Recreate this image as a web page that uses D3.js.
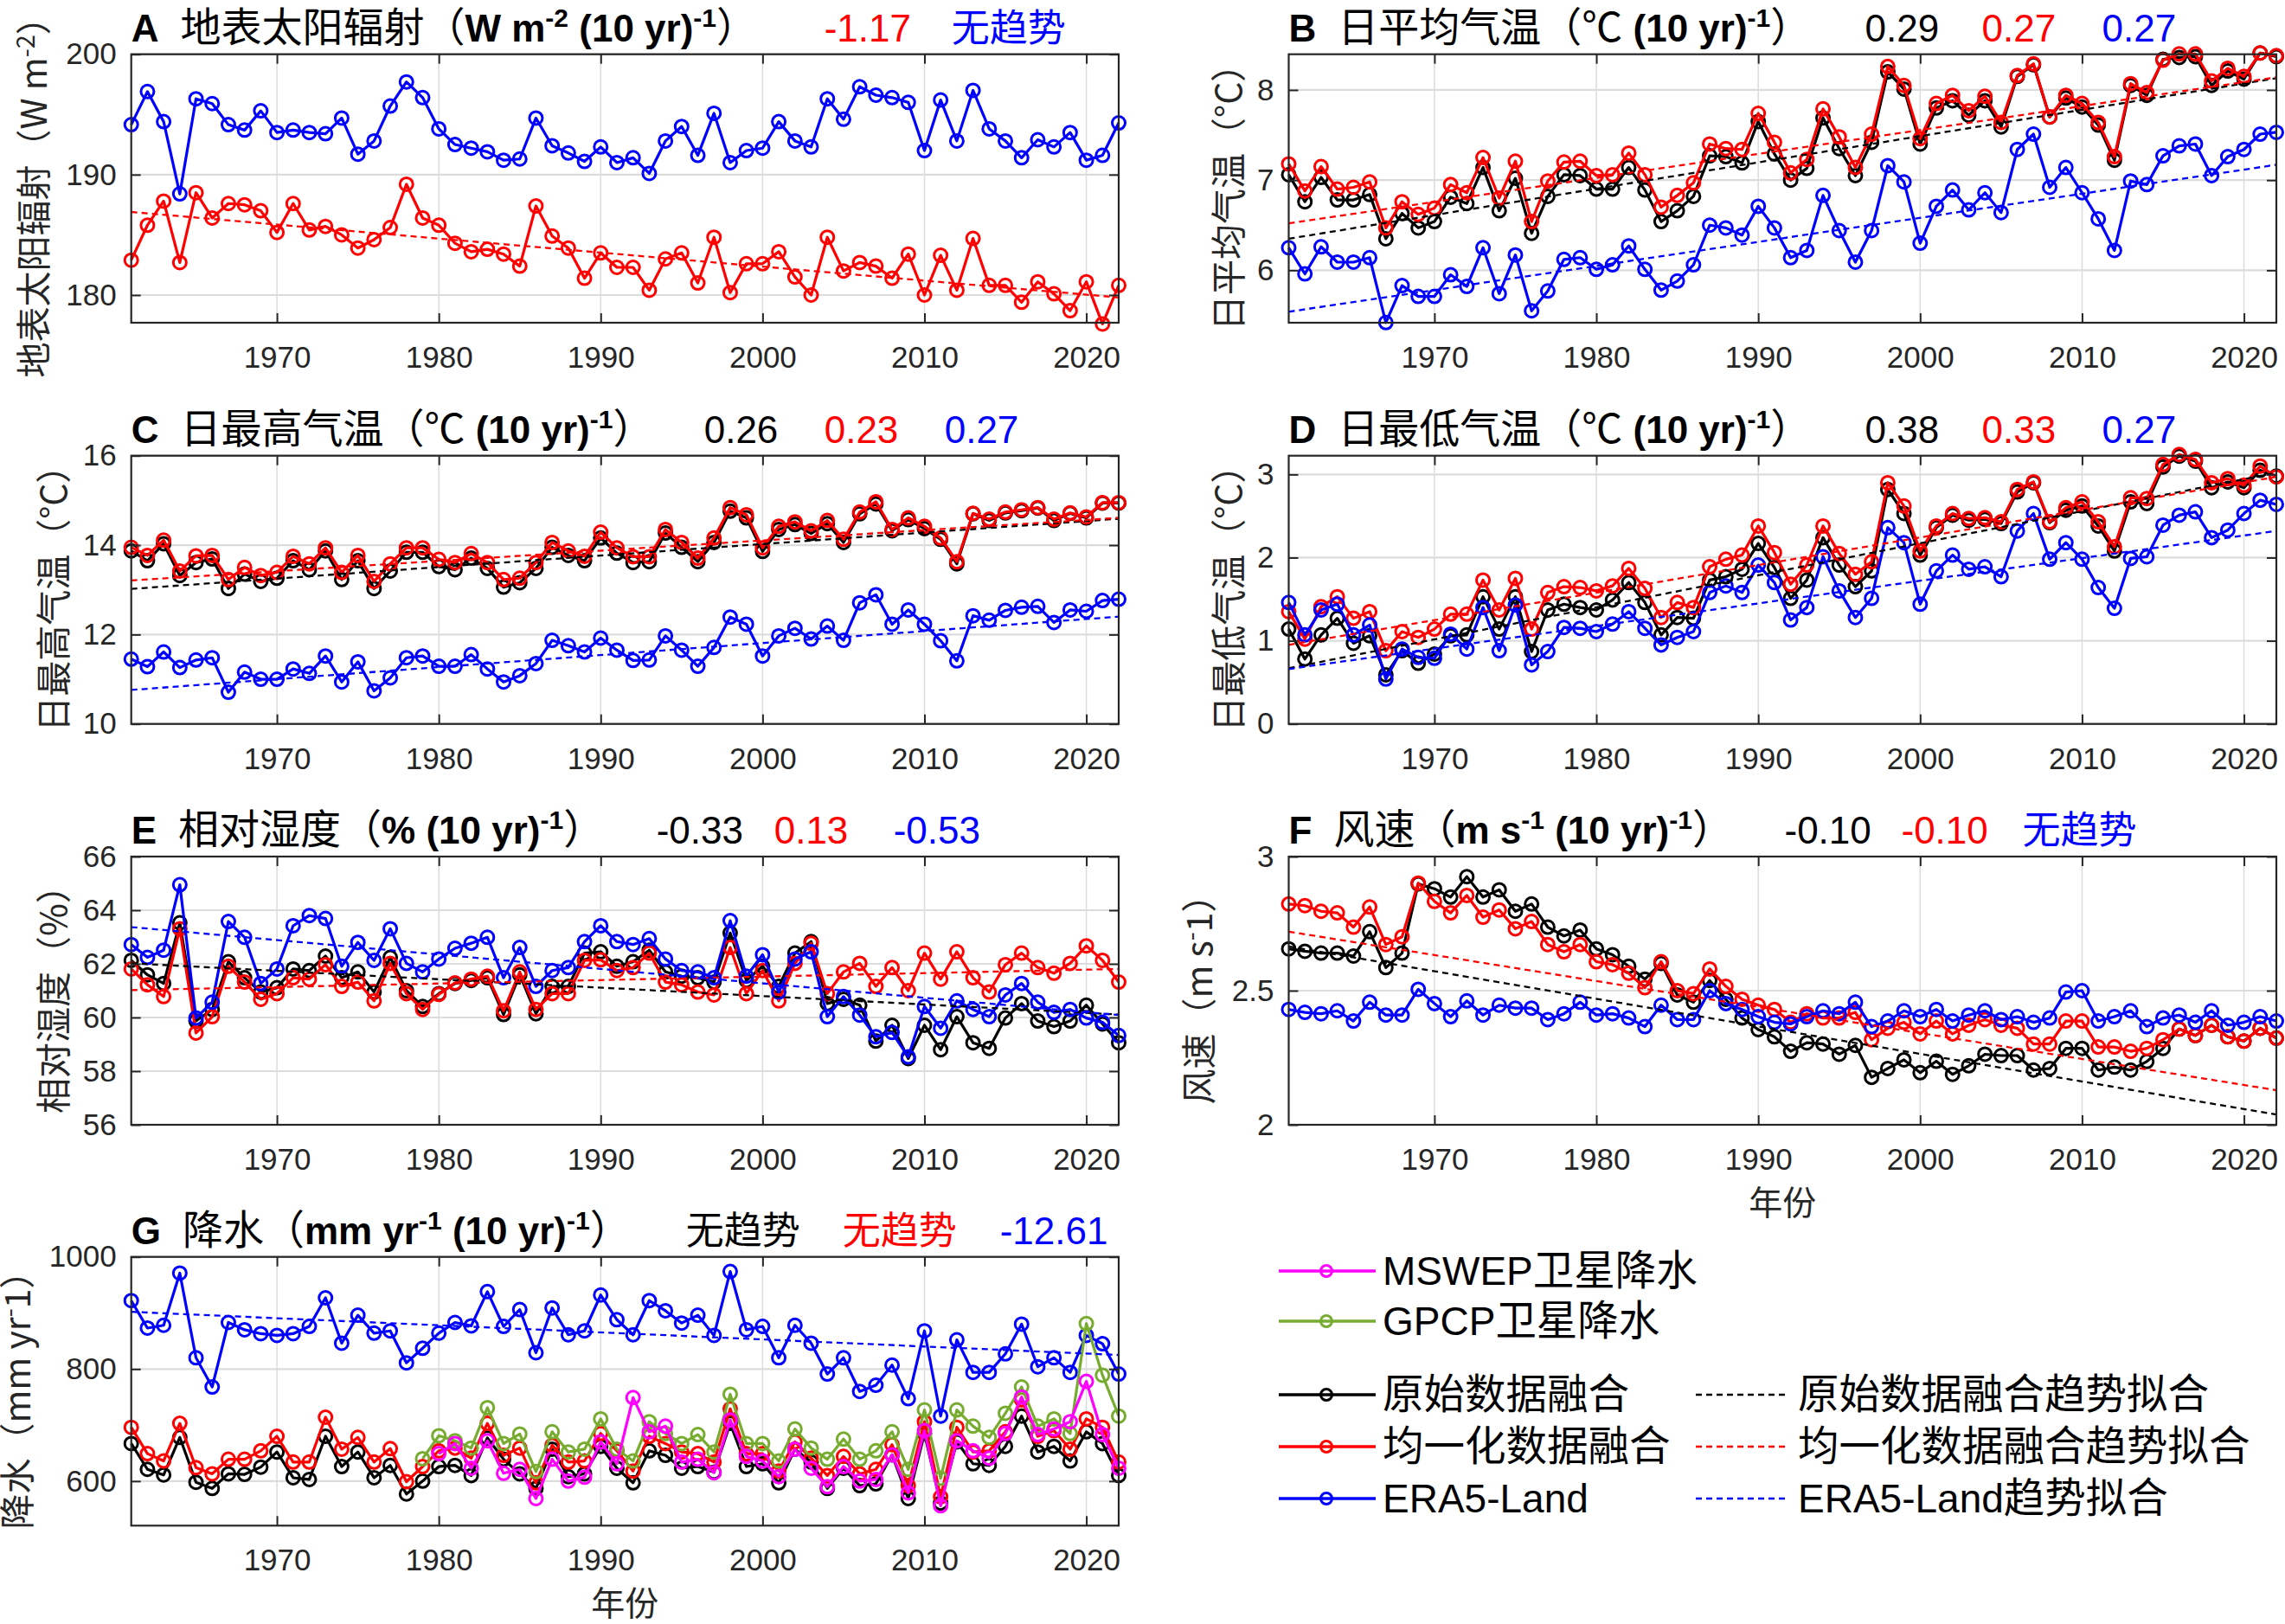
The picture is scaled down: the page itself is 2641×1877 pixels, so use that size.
<!DOCTYPE html>
<html>
<head>
<meta charset="utf-8">
<script src="https://cdn.jsdelivr.net/npm/d3@7"></script>
<style>
  body { margin: 0; background: #fff; }
  text { font-family: "Liberation Sans", Arial, "Noto Sans CJK SC", sans-serif; }
  .cjk { font-family: "Noto Sans CJK SC", "Liberation Sans", sans-serif; }
</style>
</head>
<body>
<svg id="chart" width="2641" height="1877"></svg>
<script>
// ---- data ----
const years = d3.range(1961, 2023);
const mswepYears = d3.range(1980, 2023);
const gpcpYears = d3.range(1979, 2023);
const xTicks = [1970, 1980, 1990, 2000, 2010, 2020];
const trendYears = [1961, 2022];

// A: surface solar radiation
const radHom = [182.9, 185.8, 187.8, 182.7, 188.5, 186.4, 187.6, 187.5, 187.0, 185.2,
  187.6, 185.4, 185.7, 185.0, 183.9, 184.6, 185.6, 189.2, 186.4, 185.8,
  184.3, 183.6, 183.8, 183.4, 182.4, 187.4, 184.9, 183.9, 181.4, 183.5,
  182.3, 182.3, 180.4, 183.0, 183.5, 181.0, 184.8, 180.2, 182.6, 182.6,
  183.6, 181.5, 180.0, 184.8, 182.0, 182.7, 182.4, 181.4, 183.4, 180.0,
  183.3, 180.4, 184.7, 180.8, 180.8, 179.4, 181.1, 180.1, 178.7, 181.1,
  177.6, 180.8];
const radEra = [194.15, 196.9, 194.4, 188.4, 196.3, 195.9, 194.15, 193.7, 195.3, 193.5,
  193.7, 193.5, 193.4, 194.7, 191.7, 192.8, 195.7, 197.7, 196.4, 193.8,
  192.5, 192.2, 191.9, 191.2, 191.3, 194.7, 192.4, 191.8, 191.1, 192.3,
  191.0, 191.4, 190.1, 192.8, 194.0, 191.6, 195.1, 191.0, 192.0, 192.2,
  194.4, 192.8, 192.3, 196.3, 194.6, 197.3, 196.6, 196.4, 196.0, 192.0,
  196.2, 192.8, 197.0, 193.8, 192.8, 191.4, 192.9, 192.3, 193.5, 191.2,
  191.6, 194.3];
const radHomTrend = [186.9, 179.8];

// B: daily mean temperature
const tavgRaw = [7.06, 6.76, 7.03, 6.78, 6.78, 6.84, 6.35, 6.63, 6.47, 6.54,
  6.81, 6.74, 7.14, 6.66, 7.02, 6.41, 6.82, 7.06, 7.05, 6.90,
  6.90, 7.14, 6.89, 6.54, 6.66, 6.82, 7.27, 7.26, 7.19, 7.65,
  7.29, 7.00, 7.13, 7.69, 7.35, 7.05, 7.42, 8.20, 8.01, 7.40,
  7.80, 7.88, 7.72, 7.88, 7.59, 8.15, 8.28, 7.70, 7.91, 7.81,
  7.61, 7.22, 8.05, 7.94, 8.34, 8.36, 8.37, 8.05, 8.21, 8.12,
  8.41, 8.37];
const tavgHom = [7.18, 6.88, 7.15, 6.90, 6.92, 6.98, 6.47, 6.76, 6.62, 6.69,
  6.95, 6.86, 7.25, 6.80, 7.21, 6.54, 6.99, 7.20, 7.21, 7.05,
  7.06, 7.30, 7.06, 6.70, 6.83, 6.97, 7.40, 7.35, 7.34, 7.74,
  7.42, 7.08, 7.23, 7.79, 7.48, 7.14, 7.51, 8.26, 8.05, 7.46,
  7.85, 7.94, 7.77, 7.93, 7.64, 8.16, 8.29, 7.70, 7.94, 7.85,
  7.64, 7.26, 8.07, 7.97, 8.33, 8.40, 8.40, 8.10, 8.24, 8.15,
  8.41, 8.38];
const tavgEra = [6.25, 5.96, 6.26, 6.09, 6.09, 6.14, 5.42, 5.83, 5.71, 5.71,
  5.95, 5.82, 6.25, 5.74, 6.17, 5.55, 5.77, 6.12, 6.14, 6.01,
  6.06, 6.27, 6.01, 5.78, 5.88, 6.06, 6.50, 6.47, 6.39, 6.71,
  6.47, 6.14, 6.22, 6.83, 6.44, 6.09, 6.44, 7.16, 6.98, 6.30,
  6.71, 6.89, 6.67, 6.86, 6.64, 7.34, 7.51, 6.92, 7.14, 6.86,
  6.57, 6.22, 6.99, 6.95, 7.27, 7.38, 7.40, 7.05, 7.26, 7.34,
  7.51, 7.53];
const tavgTrends = { raw: [6.35, 8.13], hom: [6.52, 8.14], era: [5.54, 7.17] };

// C: daily maximum temperature
const tmaxRaw = [13.87, 13.65, 14.03, 13.32, 13.61, 13.69, 13.03, 13.35, 13.19, 13.26,
  13.65, 13.45, 13.87, 13.23, 13.65, 13.03, 13.42, 13.84, 13.84, 13.52,
  13.45, 13.71, 13.48, 13.06, 13.16, 13.48, 13.95, 13.77, 13.65, 14.16,
  13.82, 13.61, 13.63, 14.27, 13.95, 13.63, 14.06, 14.76, 14.61, 13.86,
  14.35, 14.46, 14.26, 14.48, 14.06, 14.70, 14.92, 14.32, 14.57, 14.37,
  14.13, 13.58, 14.70, 14.55, 14.72, 14.77, 14.83, 14.55, 14.71, 14.61,
  14.94, 14.94];
const tmaxHom = [13.95, 13.77, 14.11, 13.42, 13.76, 13.77, 13.23, 13.50, 13.32, 13.39,
  13.75, 13.58, 13.94, 13.39, 13.77, 13.19, 13.58, 13.94, 13.94, 13.68,
  13.61, 13.81, 13.61, 13.23, 13.26, 13.61, 14.06, 13.87, 13.75, 14.29,
  13.94, 13.74, 13.74, 14.35, 14.06, 13.71, 14.16, 14.84, 14.68, 13.94,
  14.42, 14.52, 14.32, 14.55, 14.13, 14.74, 14.97, 14.35, 14.61, 14.42,
  14.16, 13.63, 14.71, 14.58, 14.74, 14.79, 14.84, 14.58, 14.72, 14.63,
  14.95, 14.95];
const tmaxEra = [11.45, 11.28, 11.61, 11.26, 11.43, 11.48, 10.71, 11.16, 11.00, 11.00,
  11.23, 11.13, 11.52, 10.94, 11.39, 10.74, 11.03, 11.48, 11.52, 11.29,
  11.29, 11.55, 11.23, 10.94, 11.08, 11.35, 11.87, 11.75, 11.61, 11.92,
  11.65, 11.42, 11.43, 11.97, 11.65, 11.29, 11.71, 12.39, 12.23, 11.52,
  11.97, 12.14, 11.90, 12.19, 11.87, 12.71, 12.89, 12.23, 12.55, 12.23,
  11.86, 11.41, 12.42, 12.32, 12.54, 12.61, 12.63, 12.27, 12.55, 12.52,
  12.76, 12.79];
const tmaxTrends = { raw: [13.02, 14.59], hom: [13.21, 14.61], era: [10.76, 12.40] };

// D: daily minimum temperature
const tminRaw = [1.14, 0.78, 1.07, 1.27, 0.97, 1.06, 0.59, 0.88, 0.73, 0.84,
  1.06, 1.07, 1.53, 1.14, 1.53, 0.87, 1.37, 1.44, 1.40, 1.37,
  1.49, 1.70, 1.46, 1.07, 1.28, 1.27, 1.73, 1.77, 1.86, 2.17,
  1.88, 1.51, 1.73, 2.24, 1.91, 1.65, 1.84, 2.82, 2.53, 2.03,
  2.36, 2.51, 2.45, 2.46, 2.41, 2.79, 2.90, 2.42, 2.57, 2.62,
  2.38, 2.08, 2.67, 2.65, 3.09, 3.22, 3.16, 2.84, 2.91, 2.84,
  3.05, 2.98];
const tminHom = [1.35, 1.02, 1.41, 1.53, 1.27, 1.35, 0.88, 1.11, 1.04, 1.14,
  1.32, 1.32, 1.73, 1.37, 1.75, 1.14, 1.58, 1.65, 1.64, 1.60,
  1.66, 1.87, 1.63, 1.28, 1.46, 1.40, 1.89, 1.98, 2.03, 2.38,
  2.06, 1.68, 1.91, 2.38, 2.05, 1.80, 1.95, 2.90, 2.62, 2.08,
  2.38, 2.53, 2.47, 2.48, 2.43, 2.82, 2.91, 2.43, 2.60, 2.67,
  2.43, 2.13, 2.72, 2.71, 3.12, 3.24, 3.18, 2.90, 2.95, 2.87,
  3.10, 2.97];
const tminEra = [1.46, 1.07, 1.37, 1.44, 1.07, 1.19, 0.54, 0.90, 0.80, 0.79,
  1.08, 0.90, 1.40, 0.88, 1.43, 0.71, 0.87, 1.16, 1.15, 1.11,
  1.20, 1.35, 1.15, 0.95, 1.04, 1.11, 1.58, 1.66, 1.58, 1.91,
  1.70, 1.25, 1.40, 2.01, 1.60, 1.28, 1.51, 2.36, 2.18, 1.44,
  1.84, 2.03, 1.86, 1.89, 1.77, 2.32, 2.53, 1.98, 2.18, 1.98,
  1.64, 1.39, 1.99, 2.01, 2.39, 2.51, 2.55, 2.24, 2.33, 2.53,
  2.69, 2.64];
const tminTrends = { raw: [0.67, 3.02], hom: [0.95, 2.97], era: [0.66, 2.32] };

// E: relative humidity
const rhRaw = [62.13, 61.59, 61.27, 63.53, 59.87, 60.30, 62.08, 61.48, 60.95, 61.11,
  61.81, 61.75, 62.29, 61.48, 61.70, 60.95, 62.24, 61.00, 60.41, 60.89,
  61.27, 61.38, 61.48, 60.11, 61.59, 60.14, 61.16, 61.16, 62.40, 62.45,
  61.91, 62.08, 62.51, 61.70, 61.54, 61.48, 61.32, 63.15, 61.38, 61.91,
  61.16, 62.40, 62.83, 60.52, 60.68, 60.46, 59.12, 59.71, 58.47, 59.71,
  58.80, 60.03, 59.06, 58.85, 59.98, 60.52, 59.87, 59.66, 59.87, 60.46,
  59.76, 59.06];
const rhHom = [61.81, 61.22, 60.78, 63.31, 59.42, 60.03, 61.91, 61.32, 60.68, 60.89,
  61.48, 61.43, 61.97, 61.16, 61.32, 60.62, 62.02, 60.89, 60.30, 60.86,
  61.29, 61.43, 61.54, 60.25, 61.70, 60.30, 60.89, 60.89, 62.13, 62.15,
  61.75, 61.86, 62.40, 61.32, 61.22, 60.95, 60.84, 62.61, 60.89, 61.75,
  60.62, 62.02, 62.77, 60.89, 61.70, 62.02, 61.16, 61.86, 61.00, 62.40,
  61.43, 62.45, 61.48, 60.95, 61.97, 62.40, 61.86, 61.65, 62.02, 62.67,
  62.13, 61.32];
const rhEra = [62.72, 62.24, 62.51, 64.95, 59.98, 60.57, 63.58, 62.99, 61.27, 61.81,
  63.42, 63.80, 63.69, 61.91, 62.80, 62.13, 63.31, 62.02, 61.70, 62.18,
  62.58, 62.77, 62.99, 61.48, 62.61, 61.16, 61.75, 61.86, 62.83, 63.42,
  62.83, 62.72, 62.94, 62.18, 61.75, 61.70, 61.48, 63.61, 61.54, 62.34,
  60.95, 62.18, 62.45, 60.03, 60.78, 60.09, 59.28, 59.44, 58.53, 60.41,
  59.60, 60.62, 60.30, 60.03, 60.84, 61.27, 60.57, 60.19, 60.30, 59.98,
  59.82, 59.33];
const rhTrends = { raw: [62.02, 60.11], hom: [61.02, 61.81], era: [63.37, 60.09] };

// F: wind speed
const windRaw = [2.656, 2.647, 2.640, 2.640, 2.629, 2.720, 2.586, 2.640, 2.898, 2.880,
  2.849, 2.925, 2.849, 2.876, 2.796, 2.823, 2.737, 2.704, 2.726, 2.656,
  2.634, 2.591, 2.543, 2.602, 2.484, 2.457, 2.538, 2.468, 2.398, 2.355,
  2.328, 2.274, 2.306, 2.301, 2.263, 2.296, 2.177, 2.210, 2.242, 2.194,
  2.237, 2.188, 2.220, 2.263, 2.258, 2.258, 2.204, 2.210, 2.285, 2.285,
  2.204, 2.215, 2.204, 2.236, 2.285, 2.357, 2.333, 2.371, 2.328, 2.312,
  2.360, 2.323];
const windHom = [2.823, 2.817, 2.796, 2.790, 2.737, 2.812, 2.672, 2.701, 2.901, 2.833,
  2.790, 2.855, 2.774, 2.801, 2.731, 2.758, 2.672, 2.645, 2.672, 2.608,
  2.597, 2.565, 2.511, 2.608, 2.500, 2.489, 2.581, 2.516, 2.468, 2.446,
  2.430, 2.382, 2.414, 2.398, 2.398, 2.419, 2.317, 2.360, 2.382, 2.339,
  2.387, 2.339, 2.371, 2.392, 2.371, 2.360, 2.301, 2.301, 2.387, 2.387,
  2.290, 2.290, 2.274, 2.285, 2.317, 2.357, 2.333, 2.371, 2.328, 2.312,
  2.360, 2.323];
const windEra = [2.430, 2.419, 2.414, 2.425, 2.387, 2.457, 2.409, 2.409, 2.505, 2.452,
  2.403, 2.462, 2.409, 2.446, 2.435, 2.435, 2.392, 2.414, 2.457, 2.409,
  2.414, 2.398, 2.366, 2.446, 2.392, 2.392, 2.500, 2.452, 2.430, 2.403,
  2.382, 2.376, 2.403, 2.425, 2.414, 2.457, 2.366, 2.387, 2.425, 2.403,
  2.430, 2.387, 2.409, 2.425, 2.392, 2.403, 2.382, 2.398, 2.495, 2.500,
  2.387, 2.403, 2.425, 2.366, 2.398, 2.409, 2.382, 2.425, 2.371, 2.382,
  2.403, 2.387];
const windTrends = { raw: [2.665, 2.038], hom: [2.720, 2.129] };

// G: precipitation
const precRaw = [667, 621, 611, 678, 598, 587, 613, 612, 625, 652,
  606, 603, 680, 626, 652, 606, 628, 577, 600, 626,
  628, 610, 677, 639, 613, 587, 657, 608, 613, 662,
  623, 597, 654, 646, 623, 626, 616, 703, 626, 631,
  597, 657, 634, 587, 623, 592, 595, 647, 569, 685,
  561, 670, 631, 628, 662, 716, 652, 662, 636, 688,
  667, 610];
const precHom = [696, 649, 636, 703, 624, 613, 639, 639, 654, 680,
  634, 634, 714, 657, 678, 634, 658, 599, 626, 654,
  659, 641, 703, 646, 659, 597, 664, 634, 636, 685,
  654, 618, 680, 667, 652, 649, 634, 729, 649, 649,
  618, 670, 641, 610, 644, 613, 621, 665, 592, 706,
  572, 696, 652, 654, 688, 745, 680, 690, 657, 711,
  696, 634];
const precEra = [922, 873, 878, 971, 820, 768, 883, 870, 863, 860,
  863, 876, 927, 846, 896, 864, 868, 811, 837, 864,
  883, 877, 938, 876, 906, 829, 909, 861, 868, 932,
  888, 861, 922, 904, 882, 896, 860, 974, 870, 876,
  820, 878, 846, 791, 820, 760, 771, 807, 747, 868,
  716, 852, 794, 794, 827, 880, 804, 820, 794, 860,
  845, 791];
const precMswep = [649, 667, 623, 672, 614, 621, 569, 639, 600, 607,
  670, 631, 749, 688, 698, 634, 639, 615, 709, 644,
  636, 608, 657, 623, 590, 626, 600, 603, 647, 579,
  690, 556, 672, 654, 641, 685, 750, 683, 693, 706,
  778, 683, 623];
const precGpcp = [640, 681, 672, 659, 731, 667, 684, 617, 688, 652, 657,
  711, 657, 636, 706, 685, 667, 683, 652, 755, 667,
  667, 636, 693, 659, 639, 675, 639, 654, 688, 621,
  727, 605, 727, 698, 678, 721, 768, 698, 711, 685,
  881, 789, 716];
const precTrends = { era: [902, 825] };

// trend rates printed in the titles
const ratesA = ['-1.17', '无趋势'];
const ratesB = ['0.29', '0.27', '0.27'];
const ratesC = ['0.26', '0.23', '0.27'];
const ratesD = ['0.38', '0.33', '0.27'];
const ratesE = ['-0.33', '0.13', '-0.53'];
const ratesF = ['-0.10', '-0.10', '无趋势'];
const ratesG = ['无趋势', '无趋势', '-12.61'];

// ---- styling ----
const colors = { raw: '#000000', hom: '#ff0000', era: '#0000ff', mswep: '#ff00ff', gpcp: '#77ac30' };
const axisColor = '#262626';
const gridColor = '#dcdcdc';

const svg = d3.select('#chart');

const leftCol = { left: 151.7, right: 1293 };
const rightCol = { left: 1489.5, right: 2631 };
const rows = [[62.7, 373], [526.7, 836.7], [990, 1300], [1452.7, 1763.3]];

// title builder: unit parts after the variable name
function titleParts(letter, name, unit) {
  return [{ text: letter, bold: true }, { text: name + '（', dx: 25, cjk: true }].concat(unit, [{ text: '）', cjk: true }]);
}
const perDecade = [{ text: ' (10 yr)', bold: true }, { text: '-1', bold: true, sup: true }];
const degC = { text: '℃', cjk: true };

const panels = [
  { ...leftCol, top: rows[0][0], bottom: rows[0][1], yDomain: [177.7, 200], yTicks: [180, 190, 200],
    title: titleParts('A', '地表太阳辐射', [{ text: 'W m', bold: true }, { text: '-2', bold: true, sup: true }, ...perDecade]),
    ylabel: [{ text: '地表太阳辐射（W m' }, { text: '-2', sup: true }, { text: '）' }], ylabelX: 40,
    series: [{ key: 'hom', x: years, v: radHom }, { key: 'era', x: years, v: radEra }],
    trends: { hom: radHomTrend },
    rates: ratesA, rateKeys: ['hom', 'era'], rateX: [801, 948] },
  { ...rightCol, top: rows[0][0], bottom: rows[0][1], yDomain: [5.418, 8.396], yTicks: [6, 7, 8],
    title: titleParts('B', '日平均气温', [degC, ...perDecade]),
    ylabel: [{ text: '日平均气温（°C）' }], ylabelX: 1421,
    series: [{ key: 'raw', x: years, v: tavgRaw }, { key: 'hom', x: years, v: tavgHom }, { key: 'era', x: years, v: tavgEra }],
    trends: tavgTrends,
    rates: ratesB, rateKeys: ['raw', 'hom', 'era'], rateX: [666, 801, 940] },
  { ...leftCol, top: rows[1][0], bottom: rows[1][1], yDomain: [10, 16], yTicks: [10, 12, 14, 16],
    title: titleParts('C', '日最高气温', [degC, ...perDecade]),
    ylabel: [{ text: '日最高气温（°C）' }], ylabelX: 63,
    series: [{ key: 'raw', x: years, v: tmaxRaw }, { key: 'hom', x: years, v: tmaxHom }, { key: 'era', x: years, v: tmaxEra }],
    trends: tmaxTrends,
    rates: ratesC, rateKeys: ['raw', 'hom', 'era'], rateX: [662, 801, 940] },
  { ...rightCol, top: rows[1][0], bottom: rows[1][1], yDomain: [0, 3.225], yTicks: [0, 1, 2, 3],
    title: titleParts('D', '日最低气温', [degC, ...perDecade]),
    ylabel: [{ text: '日最低气温（°C）' }], ylabelX: 1421,
    series: [{ key: 'raw', x: years, v: tminRaw }, { key: 'hom', x: years, v: tminHom }, { key: 'era', x: years, v: tminEra }],
    trends: tminTrends,
    rates: ratesD, rateKeys: ['raw', 'hom', 'era'], rateX: [666, 801, 940] },
  { ...leftCol, top: rows[2][0], bottom: rows[2][1], yDomain: [56, 66], yTicks: [56, 58, 60, 62, 64, 66],
    title: titleParts('E', '相对湿度', [{ text: '%', bold: true }, ...perDecade]),
    ylabel: [{ text: '相对湿度（%）' }], ylabelX: 63,
    series: [{ key: 'raw', x: years, v: rhRaw }, { key: 'hom', x: years, v: rhHom }, { key: 'era', x: years, v: rhEra }],
    trends: rhTrends,
    rates: ratesE, rateKeys: ['raw', 'hom', 'era'], rateX: [607, 743, 881] },
  { ...rightCol, top: rows[2][0], bottom: rows[2][1], yDomain: [2, 3], yTicks: [2, 2.5, 3],
    title: titleParts('F', '风速', [{ text: 'm s', bold: true }, { text: '-1', bold: true, sup: true }, ...perDecade]),
    ylabel: [{ text: '风速（m s' }, { text: '-', sup: true }, { text: '1）' }], ylabelX: 1387,
    series: [{ key: 'raw', x: years, v: windRaw }, { key: 'hom', x: years, v: windHom }, { key: 'era', x: years, v: windEra }],
    trends: windTrends, xlabel: true,
    rates: ratesF, rateKeys: ['raw', 'hom', 'era'], rateX: [573, 708, 848] },
  { ...leftCol, top: rows[3][0], bottom: rows[3][1], yDomain: [520.6, 1000], yTicks: [600, 800, 1000],
    title: titleParts('G', '降水', [{ text: 'mm yr', bold: true }, { text: '-1', bold: true, sup: true }, ...perDecade]),
    ylabel: [{ text: '降水（mm yr' }, { text: '-', sup: true }, { text: '1）' }], ylabelX: 21,
    series: [{ key: 'raw', x: years, v: precRaw }, { key: 'hom', x: years, v: precHom }, { key: 'era', x: years, v: precEra },
      { key: 'gpcp', x: gpcpYears, v: precGpcp }, { key: 'mswep', x: mswepYears, v: precMswep }],
    trends: precTrends, xlabel: true,
    rates: ratesG, rateKeys: ['raw', 'hom', 'era'], rateX: [641, 822, 1004] },
];

// add tspans with simple superscript handling
function addParts(text, parts, supShift, supSize, cjkSize) {
  let raised = false;
  parts.forEach((p) => {
    const s = text.append('tspan').text(p.text);
    if (p.bold) s.attr('font-weight', 'bold');
    if (p.cjk) s.attr('class', 'cjk');
    if (p.cjk && cjkSize) s.attr('font-size', cjkSize);
    let dy = 0;
    if (p.sup && !raised) { dy = -supShift; raised = true; }
    else if (!p.sup && raised) { dy = supShift; raised = false; }
    if (dy) s.attr('dy', dy);
    if (p.sup) s.attr('font-size', supSize);
    if (p.dx) s.attr('dx', p.dx);
  });
}

// split a label into latin / CJK runs so the CJK runs can be a touch larger
function addMixed(text, str, cjkSize) {
  str.split(/([\u3000-\u9fff\uff00-\uffef]+)/).filter((s) => s).forEach((s) => {
    const isCjk = /[\u3000-\u9fff\uff00-\uffef]/.test(s);
    const t = text.append('tspan').text(s);
    if (isCjk) t.attr('class', 'cjk').attr('font-size', cjkSize);
  });
}

function drawPanel(p) {
  const x = d3.scaleLinear().domain([1961, 2022]).range([p.left, p.right]);
  const y = d3.scaleLinear().domain(p.yDomain).range([p.bottom, p.top]);
  const g = svg.append('g');

  // grid
  g.append('g').selectAll('line').data(xTicks).join('line')
    .attr('x1', (d) => x(d)).attr('x2', (d) => x(d))
    .attr('y1', p.top).attr('y2', p.bottom)
    .attr('stroke', gridColor).attr('stroke-width', 1.5);
  g.append('g').selectAll('line').data(p.yTicks).join('line')
    .attr('x1', p.left).attr('x2', p.right)
    .attr('y1', (d) => y(d)).attr('y2', (d) => y(d))
    .attr('stroke', gridColor).attr('stroke-width', 2.2);

  // data lines + open circle markers
  const line = d3.line().x((d) => x(d[0])).y((d) => y(d[1]));
  p.series.forEach((s) => {
    const pts = s.x.map((yr, i) => [yr, s.v[i]]);
    const c = colors[s.key];
    g.append('path').datum(pts).attr('d', line)
      .attr('fill', 'none').attr('stroke', c).attr('stroke-width', 3.2).attr('stroke-linejoin', 'round');
    g.append('g').selectAll('circle').data(pts).join('circle')
      .attr('cx', (d) => x(d[0])).attr('cy', (d) => y(d[1])).attr('r', 7.5)
      .attr('fill', 'none').attr('stroke', c).attr('stroke-width', 3);
  });

  // dashed trend lines
  Object.entries(p.trends).forEach(([key, ends]) => {
    g.append('line')
      .attr('x1', x(trendYears[0])).attr('y1', y(ends[0]))
      .attr('x2', x(trendYears[1])).attr('y2', y(ends[1]))
      .attr('stroke', colors[key]).attr('stroke-width', 2.3).attr('stroke-dasharray', '7,5');
  });

  // axes (ticks pointing inwards on all four sides)
  const styleAxis = (a) => {
    a.select('.domain').remove();
    a.selectAll('line').attr('stroke', axisColor).attr('stroke-width', 2);
    a.selectAll('text').attr('fill', axisColor).attr('font-size', 35)
      .attr('font-family', '"Liberation Sans", Arial, sans-serif');
  };
  g.append('g').attr('transform', `translate(0,${p.bottom})`)
    .call(d3.axisBottom(x).tickValues(xTicks).tickFormat(d3.format('d')).tickSizeInner(-11).tickSizeOuter(0).tickPadding(27))
    .call(styleAxis);
  g.append('g').attr('transform', `translate(0,${p.top})`)
    .call(d3.axisTop(x).tickValues(xTicks).tickFormat('').tickSizeInner(-11).tickSizeOuter(0))
    .call(styleAxis);
  g.append('g').attr('transform', `translate(${p.left},0)`)
    .call(d3.axisLeft(y).tickValues(p.yTicks).tickFormat((d) => String(d)).tickSizeInner(-11).tickSizeOuter(0).tickPadding(17))
    .call(styleAxis);
  g.append('g').attr('transform', `translate(${p.right},0)`)
    .call(d3.axisRight(y).tickValues(p.yTicks).tickFormat('').tickSizeInner(-11).tickSizeOuter(0))
    .call(styleAxis);

  g.append('rect')
    .attr('x', p.left).attr('y', p.top)
    .attr('width', p.right - p.left).attr('height', p.bottom - p.top)
    .attr('fill', 'none').attr('stroke', axisColor).attr('stroke-width', 2.2);

  // title
  const t = svg.append('text').attr('x', p.left).attr('y', p.top - 15)
    .attr('font-size', 44).attr('fill', '#000');
  addParts(t, p.title, 17, 30, 47);

  p.rates.forEach((r, i) => {
    svg.append('text')
      .attr('x', p.left + p.rateX[i]).attr('y', p.top - 15)
      .attr('font-size', 44).attr('fill', colors[p.rateKeys[i]])
      .text(r);
  });

  // y label
  const cy = (p.top + p.bottom) / 2;
  const yl = svg.append('text').attr('class', 'cjk')
    .attr('transform', `translate(${p.ylabelX},${cy}) rotate(-90)`)
    .attr('text-anchor', 'middle').attr('dy', '0.35em')
    .attr('font-size', 41).attr('fill', axisColor);
  addParts(yl, p.ylabel, 14, 29);

  if (p.xlabel) {
    svg.append('text').attr('class', 'cjk')
      .attr('x', (p.left + p.right) / 2).attr('y', p.bottom + 104)
      .attr('text-anchor', 'middle').attr('font-size', 39).attr('fill', axisColor)
      .text('年份');
  }
}

panels.forEach(drawPanel);

// ---- legend ----
const legendSolid = [
  { key: 'mswep', label: 'MSWEP卫星降水', y: 1469 },
  { key: 'gpcp', label: 'GPCP卫星降水', y: 1527 },
  { key: 'raw', label: '原始数据融合', y: 1612 },
  { key: 'hom', label: '均一化数据融合', y: 1672 },
  { key: 'era', label: 'ERA5-Land', y: 1732 },
];
const legendDashed = [
  { key: 'raw', label: '原始数据融合趋势拟合', y: 1612 },
  { key: 'hom', label: '均一化数据融合趋势拟合', y: 1672 },
  { key: 'era', label: 'ERA5-Land趋势拟合', y: 1732 },
];
const lg = svg.append('g');
legendSolid.forEach((d) => {
  lg.append('line').attr('x1', 1478).attr('x2', 1590).attr('y1', d.y).attr('y2', d.y)
    .attr('stroke', colors[d.key]).attr('stroke-width', 3.5);
  lg.append('circle').attr('cx', 1533).attr('cy', d.y).attr('r', 6.5)
    .attr('fill', 'none').attr('stroke', colors[d.key]).attr('stroke-width', 3);
  const t = lg.append('text').attr('x', 1598).attr('y', d.y + 16)
    .attr('font-size', 46).attr('fill', '#000');
  addMixed(t, d.label, 47.5);
});
legendDashed.forEach((d) => {
  lg.append('line').attr('x1', 1960).attr('x2', 2067).attr('y1', d.y).attr('y2', d.y)
    .attr('stroke', colors[d.key]).attr('stroke-width', 2.3).attr('stroke-dasharray', '7,5');
  const t = lg.append('text').attr('x', 2078).attr('y', d.y + 16)
    .attr('font-size', 46).attr('fill', '#000');
  addMixed(t, d.label, 47.5);
});
</script>
</body>
</html>
